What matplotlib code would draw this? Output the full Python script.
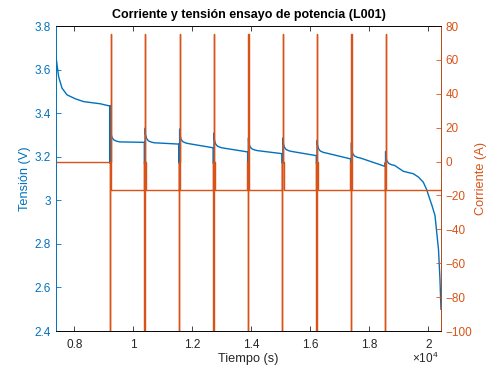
import numpy as np
import matplotlib
matplotlib.use("Agg")
import matplotlib.pyplot as plt

plt.rcParams['font.family'] = ['Liberation Sans', 'DejaVu Sans']
plt.rcParams['mathtext.fontset'] = 'custom'
plt.rcParams['mathtext.rm'] = 'Liberation Sans'
plt.rcParams['mathtext.it'] = 'Liberation Sans'

# --- data ---
t_start = 7380
t_end = 20430

# rest before first pulse (tension decay)
pre_t = [7380, 7468, 7583, 7753, 8034, 8315, 8881, 9162]
pre_v = [3.659, 3.568, 3.515, 3.484, 3.466, 3.453, 3.443, 3.434]

# pulse start times (s)
pulse_t = [9200, 10370, 11540, 12705, 13870, 15040, 16200, 17360, 18520]
# voltage peak during charge pulse
spike_v = [3.354, 3.331, 3.327, 3.309, 3.286, 3.286, 3.275, 3.263, 3.224]
# voltage min during discharge pulse
dis_v = 3.17
# voltage level after relaxation and at end of each segment
seg_start = [3.268, 3.264, 3.260, 3.240, 3.228, 3.224, 3.217, 3.194, 3.160]
seg_end = [3.266, 3.258, 3.241, 3.222, 3.214, 3.205, 3.190, 3.156]

# relaxation after each pulse (offset from seg_start)
relax_dt = [0, 40, 100, 200, 300]
relax_dv = [0.040, 0.020, 0.009, 0.003, 0.0]

# final discharge after last pulse
tail_t = [19153, 19492, 19662, 19831, 19946, 20034, 20125, 20227, 20295, 20346, 20396, 20430]
tail_v = [3.133, 3.122, 3.107, 3.083, 3.049, 3.012, 2.976, 2.930, 2.843, 2.774, 2.637, 2.500]

# current profile of one pulse (relative time, A)
pulse_dt = [0, 5, 5, 15, 15, 30, 30, 40, 40, 55, 55]
pulse_cur = [0, 0, -100, -100, 0, 0, 75, 75, 0, 0, -17]
rest_cur = 0
disch_cur = -17

x_ticks = [8000, 10000, 12000, 14000, 16000, 18000, 20000]
x_labels = ['0.8', '1', '1.2', '1.4', '1.6', '1.8', '2']
yl_ticks = [2.4, 2.6, 2.8, 3.0, 3.2, 3.4, 3.6, 3.8]
yl_labels = ['2.4', '2.6', '2.8', '3', '3.2', '3.4', '3.6', '3.8']
yr_ticks = [-100, -80, -60, -40, -20, 0, 20, 40, 60, 80]

# --- build series ---
cur_t = [t_start]
cur_i = [rest_cur]
prev = rest_cur
for tp in pulse_t:
    cur_t.append(tp)
    cur_i.append(prev)
    for dt, c in zip(pulse_dt, pulse_cur):
        cur_t.append(tp + dt)
        cur_i.append(c)
    prev = disch_cur
cur_t.append(t_end)
cur_i.append(disch_cur)

volt_t = list(pre_t)
volt_v = list(pre_v)
for k, tp in enumerate(pulse_t):
    before = volt_v[-1]
    volt_t += [tp + 5, tp + 5, tp + 15, tp + 15, tp + 30, tp + 30, tp + 40]
    volt_v += [before, dis_v, dis_v, before, before, spike_v[k], spike_v[k]]
    for dt, dv in zip(relax_dt, relax_dv):
        volt_t.append(tp + 40 + dt)
        volt_v.append(seg_start[k] + dv)
    if k < len(seg_end):
        volt_t.append(pulse_t[k + 1])
        volt_v.append(seg_end[k])
volt_t += tail_t
volt_v += tail_v

# --- plot ---
blue = '#0072BD'
orange = '#D95319'
dark = '#262626'

fig = plt.figure(figsize=(4.87, 3.70), dpi=100)
ax = fig.add_axes([0.115, 0.1054, 0.7905, 0.8243])
ax.plot(volt_t, volt_v, color=blue, lw=1.0)
ax.set_xlim(t_start, t_end)
ax.set_ylim(2.4, 3.8)
ax.set_xticks(x_ticks)
ax.set_xticklabels(x_labels)
ax.set_yticks(yl_ticks)
ax.set_yticklabels(yl_labels)
ax.set_ylabel('Tensión (V)', color=blue, fontsize=9.2, labelpad=3)
ax.set_xlabel('Tiempo (s)', color=dark, fontsize=9.2, labelpad=1)
ax.set_title('Corriente y tensión ensayo de potencia (L001)', fontsize=9,
             fontweight='bold', pad=6)
ax.tick_params(axis='x', direction='in', top=True, length=3.5, width=0.6,
               colors=dark, labelsize=8.5, pad=6)
ax.tick_params(axis='y', direction='in', length=3.5, width=0.6,
               colors=blue, labelsize=8.5, pad=3.5)
ax.spines['left'].set_color(blue)
ax.spines['top'].set_color(dark)
ax.spines['bottom'].set_color(dark)
for s in ax.spines.values():
    s.set_linewidth(0.6)
ax.annotate('$\\times10^{4}$', xy=(0.958, -0.064), xycoords='axes fraction',
            ha='center', va='top', fontsize=8.5, color=dark)

ax2 = ax.twinx()
ax2.plot(cur_t, cur_i, color=orange, lw=1.0)
ax2.set_ylim(-100, 80)
ax2.set_yticks(yr_ticks)
ax2.set_ylabel('Corriente (A)', color=orange, fontsize=9.2, labelpad=2)
ax2.tick_params(axis='y', direction='in', length=3.5, width=0.6,
                colors=orange, labelsize=8.5, pad=3.5)
ax2.spines['right'].set_color(orange)
ax2.spines['left'].set_color(blue)
for s in ax2.spines.values():
    s.set_linewidth(0.6)

fig.savefig('out.png', dpi=100)
